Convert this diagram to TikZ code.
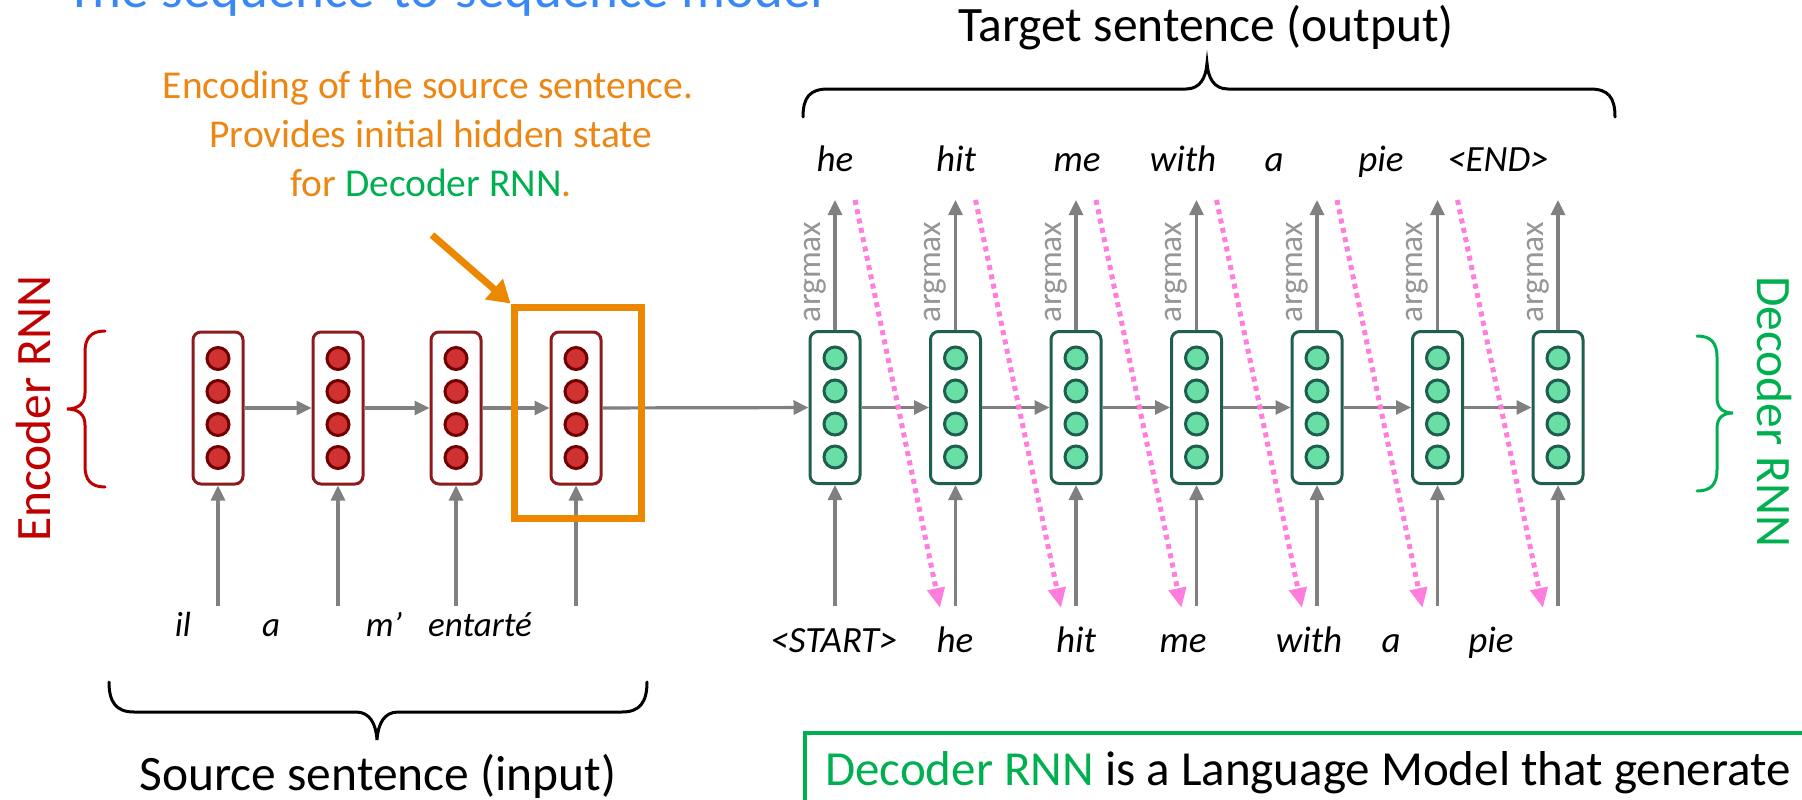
\documentclass[tikz,border=0pt]{standalone}
\usepackage{fontspec}
\setmainfont{Carlito}
\usetikzlibrary{arrows.meta}
\definecolor{ttlblue}{RGB}{58,136,245}
\definecolor{anorange}{RGB}{237,135,20}
\definecolor{frameorange}{RGB}{236,136,0}
\definecolor{encred}{RGB}{192,0,0}
\definecolor{decgreen}{RGB}{0,176,80}
\definecolor{encborder}{RGB}{140,28,28}
\definecolor{encfill}{RGB}{208,50,50}
\definecolor{encdotborder}{RGB}{115,0,0}
\definecolor{decborder}{RGB}{30,95,80}
\definecolor{decfill}{RGB}{105,222,165}
\definecolor{arrgray}{RGB}{128,128,128}
\definecolor{txtgray}{RGB}{150,150,150}
\definecolor{pinkdot}{RGB}{255,125,220}
\newcommand{\fsz}[1]{\fontsize{#1}{#1}\selectfont}
\begin{document}
\begin{tikzpicture}[x=1pt,y=-1pt,
  cellbox/.style={rectangle, rounded corners=8pt, minimum width=50pt, minimum height=152pt, line width=3pt, fill=white, inner sep=0pt},
  encbox/.style={cellbox, draw=encborder},
  decbox/.style={cellbox, draw=decborder},
  encdot/.style={circle, minimum size=22pt, inner sep=0pt, line width=3pt, draw=encdotborder, fill=encfill},
  decdot/.style={circle, minimum size=22pt, inner sep=0pt, line width=3pt, draw=decborder, fill=decfill},
  flow/.style={draw=arrgray, line width=3.2pt, -{Triangle[length=15pt,width=14pt]}},
  pinkarrow/.style={draw=pinkdot, line width=5pt, dash pattern=on 5pt off 4.5pt, -{Triangle[length=20pt,width=17pt]}},
  decword/.style={font=\fsz{37}\itshape, anchor=base, inner sep=0pt},
  encword/.style={font=\fsz{35}\itshape, anchor=base, inner sep=0pt},
  big/.style={font=\fsz{49.5}, anchor=base, inner sep=0pt},
  anntext/.style={font=\fsz{39.5}, text=anorange, anchor=base, inner sep=0pt},
  argtext/.style={font=\fsz{33.5}, text=txtgray, rotate=90, anchor=base, inner sep=0pt},
  bracepath/.style={line width=3pt, line cap=round},
]
\useasboundingbox (0,0) rectangle (1802,800);
\clip (0,0) rectangle (1802,800);

% title (cut at the top)
\node[font=\fsz{55}, text=ttlblue, anchor=base west, inner sep=0pt] (title) at (66,8) {The sequence-to-sequence model};

% annotation
\node[anntext] (ann1) at (428,98) {Encoding of the source sentence.};
\node[anntext] (ann2) at (431,147) {Provides initial hidden state};
\node[anntext] (ann3) at (431,196) {for \textcolor{decgreen}{Decoder RNN}.};

% encoder cells
\foreach \n/\x in {1/218,2/338,3/456,4/576}{
  \node[encbox] (e\n) at (\x,408) {};
  \foreach \k/\y in {1/358.5,2/391.5,3/424.5,4/457.5}
    \node[encdot] (e\n d\k) at (\x,\y) {};
  \coordinate (ein\n) at (\x,606);
  \draw[flow] (ein\n) -- (e\n);
}
% decoder cells
\foreach \n/\x in {1/835,2/955.5,3/1076,4/1196.5,5/1317,6/1437.5,7/1558}{
  \node[decbox] (d\n) at (\x,407.5) {};
  \foreach \k/\y in {1/358,2/391,3/424,4/457}
    \node[decdot] (d\n d\k) at (\x,\y) {};
  \coordinate (din\n) at (\x,606);
  \coordinate (dout\n) at (\x,200);
  \draw[flow] (din\n) -- (d\n);
  \draw[flow] (d\n) -- (dout\n);
  \node[argtext] (am\n) at (\x-15,272) {argmax};
}
% recurrent arrows
\foreach \a/\b in {1/2,2/3,3/4}
  \draw[flow] (e\a) -- (e\b);
\draw[flow] (e4) -- (d1);
\foreach \a/\b in {1/2,2/3,3/4,4/5,5/6,6/7}
  \draw[flow] (d\a) -- (d\b);

% orange frame and arrow
\node[draw=frameorange, line width=7pt, minimum width=127pt, minimum height=211pt, inner sep=0pt] (frame) at (577.5,412.5) {};
\coordinate (oastart) at (432,235);
\draw[draw=frameorange, line width=7pt, -{Triangle[length=22pt,width=26pt]}] (oastart) -- (frame.north west);

% pink feed arrows
\foreach \n/\xs/\xe in {1/855/940,2/975.5/1061,3/1096/1181.5,4/1216.5/1302,5/1337/1422.5,6/1457.5/1543}{
  \coordinate (ps\n) at (\xs,200);
  \coordinate (pe\n) at (\xe,608);
  \draw[pinkarrow] (ps\n) -- (pe\n);
}

% words
\node[encword] (wil) at (183,636) {il};
\node[encword] (wa) at (271,636) {a};
\node[encword] (wm) at (384,636) {m’};
\node[encword] (went) at (480,636) {entarté};

\node[decword] (t1) at (835,171) {he};
\node[decword] (t2) at (956,171) {hit};
\node[decword] (t3) at (1077,171) {me};
\node[decword] (t4) at (1183,171) {with};
\node[decword] (t5) at (1274,171) {a};
\node[decword] (t6) at (1381,171) {pie};
\node[decword] (t7) at (1498,171) {<END>};

\node[decword] (b1) at (834,652) {<START>};
\node[decword] (b2) at (955,652) {he};
\node[decword] (b3) at (1076,652) {hit};
\node[decword] (b4) at (1183,652) {me};
\node[decword] (b5) at (1309,652) {with};
\node[decword] (b6) at (1391,652) {a};
\node[decword] (b7) at (1491,652) {pie};

% braces
\draw[bracepath] (803,117) .. controls (803,97) and (810,89) .. (828,89) -- (1186,89) .. controls (1200,89) and (1206,78) .. (1207,63) .. controls (1208,78) and (1214,89) .. (1228,89) -- (1590,89) .. controls (1608,89) and (1615,97) .. (1615,117);
\draw[bracepath] (109,682) .. controls (109,702) and (116,712) .. (134,712) -- (356,712) .. controls (370,712) and (376,724) .. (377,740) .. controls (378,724) and (384,712) .. (398,712) -- (622,712) .. controls (640,712) and (647,702) .. (647,682);
\draw[bracepath, draw=encred] (105,331) .. controls (91,331) and (85,338) .. (85,352) -- (85,393) .. controls (85,403) and (79,409) .. (67,409) .. controls (79,409) and (85,415) .. (85,425) -- (85,466) .. controls (85,480) and (91,487) .. (105,487);
\draw[bracepath, draw=decgreen] (1697,336) .. controls (1711,336) and (1717,343) .. (1717,357) -- (1717,398) .. controls (1717,408) and (1723,413) .. (1733,413) .. controls (1723,413) and (1717,418) .. (1717,428) -- (1717,470) .. controls (1717,484) and (1711,491) .. (1697,491);

% labels
\node[big] (target) at (1206,42) {Target sentence (output)};
\node[big] (source) at (378,790) {Source sentence (input)};
\node[big, text=encred, rotate=90] (enclabel) at (50,408.5) {Encoder RNN};
\node[big, text=decgreen, rotate=-90] (declabel) at (1757,412) {Decoder RNN};

% green note box (cut at right and bottom)
\node[draw=decgreen, line width=4pt, anchor=north west, minimum width=1100pt, minimum height=150pt, inner sep=0pt] (gbox) at (803,731) {};
\node[font=\fsz{49}, anchor=base west, inner sep=0pt] (gtext) at (825,785) {\textcolor{decgreen}{Decoder RNN} is a Language Model that generate};
\end{tikzpicture}
\end{document}
